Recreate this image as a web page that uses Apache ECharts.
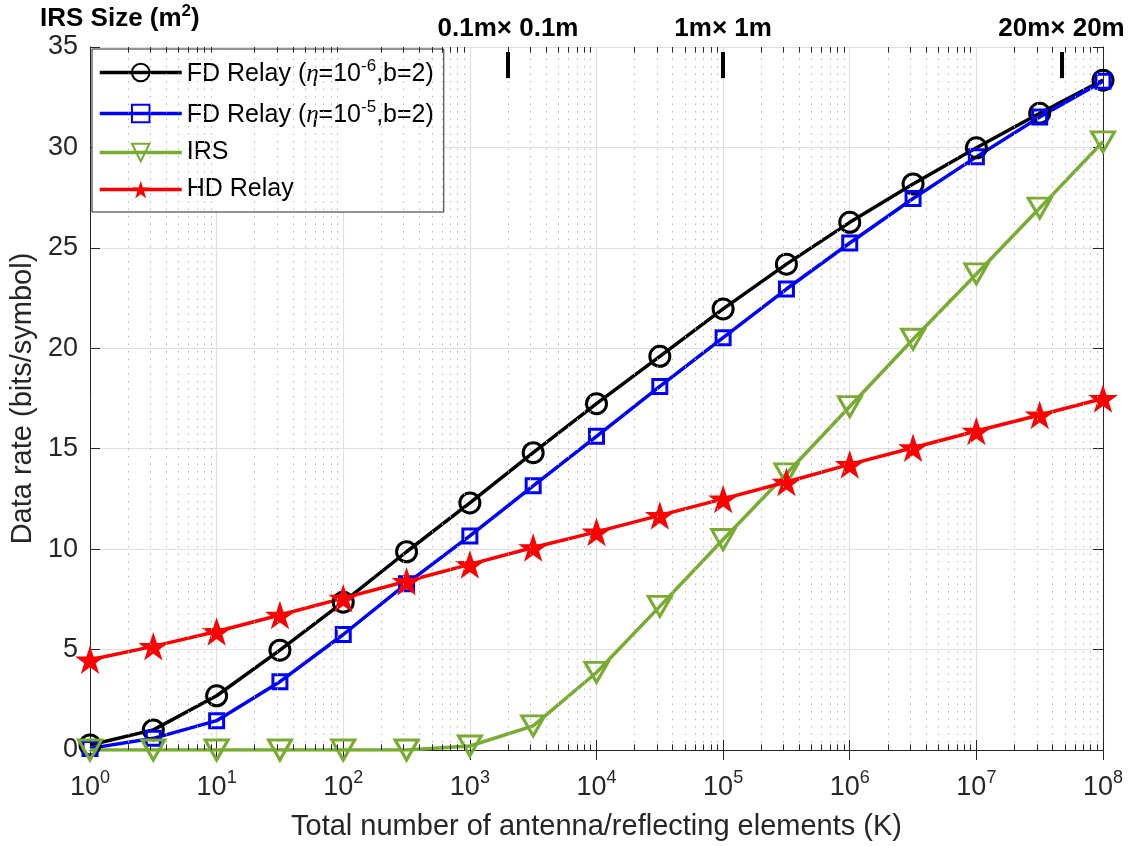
<!DOCTYPE html>
<html>
<head>
<meta charset="utf-8">
<script src="https://cdn.jsdelivr.net/npm/echarts@6/dist/echarts.min.js"></script>
<style>
  html, body { margin: 0; padding: 0; background: #fff; }
  #chart { width: 1133px; height: 846px; }
</style>
</head>
<body>
<div id="chart"></div>
<script>
// 横轴: K (天线/反射单元总数)
var K = [1, 3.162, 10, 31.62, 100, 316.2, 1000, 3162, 10000, 31623, 100000,
  316228, 1000000, 3162278, 10000000, 31622777, 100000000]
// 数据 (bits/symbol)
var fdEta6 = [0.25, 1.0, 2.7, 4.97, 7.36, 9.87, 12.3, 14.8, 17.24, 19.6, 21.96,
  24.19, 26.27, 28.18, 29.98, 31.7, 33.35]
var fdEta5 = [0.08, 0.58, 1.46, 3.4, 5.75, 8.28, 10.66, 13.15, 15.62, 18.1, 20.53,
  22.95, 25.24, 27.46, 29.53, 31.52, 33.3]
var irs = [0, 0, 0, 0, 0, 0, 0.2, 1.2, 3.86, 7.15, 10.48, 13.75, 17.1, 20.45,
  23.7, 26.98, 30.28]
var hdRelay = [4.49, 5.16, 5.9, 6.72, 7.56, 8.4, 9.24, 10.08, 10.86, 11.68, 12.5,
  13.34, 14.22, 15.05, 15.88, 16.68, 17.5]

// IRS 尺寸标注
var sizeK = [2000, 100000, 47000000]
var sizeLabels = ['0.1m\u00d7 0.1m', '1m\u00d7 1m', '20m\u00d7 20m']

var names = ['FD Relay (\u03b7=10-6,b=2)', 'FD Relay (\u03b7=10-5,b=2)', 'IRS', 'HD Relay']
var legendRich = {}
legendRich[names[0]] = '{t|FD Relay (}{e|\u03b7}{t|=10}{s|-6}{t|,b=2)}'
legendRich[names[1]] = '{t|FD Relay (}{e|\u03b7}{t|=10}{s|-5}{t|,b=2)}'
legendRich[names[2]] = '{t|IRS}'
legendRich[names[3]] = '{t|HD Relay}'

var minorMult = [2, 3, 4, 5, 6, 7, 8, 9]
var decades = [1, 10, 100, 1000, 10000, 100000, 1000000, 10000000]

var FONT = 'Liberation Sans'
var star = 'path://M50,0L61.2,34.5L97.6,34.5L68.2,55.9L79.4,90.5L50,69.1L20.6,90.5L31.8,55.9L2.4,34.5L38.8,34.5Z'

function pairs(ys) {
  return K.map(function (k, i) { return [k, ys[i]] })
}

// 次刻度与次网格
var minorGrid = []
var minorTicks = []
decades.forEach(function (d) {
  minorMult.forEach(function (m) {
    var v = m * d
    minorGrid.push({ xAxis: v })
    minorTicks.push([{ coord: [v, 0] }, { coord: [v, 0.28] }])
    minorTicks.push([{ coord: [v, 35] }, { coord: [v, 34.72] }])
  })
})

var sizeMarks = sizeK.map(function (k, i) {
  return [{ coord: [k, 33.45], name: sizeLabels[i] }, { coord: [k, 34.75] }]
})

var supLabel = function (value) {
  var e = Math.round(Math.log10(value))
  return '{b|10}{s|' + e + '}'
}

var chart = echarts.init(document.getElementById('chart'))

var option = {
  animation: false,
  backgroundColor: '#fff',
  textStyle: { fontFamily: FONT },
  title: {
    text: '{b|IRS Size (m}{s|2}{b|)}',
    left: 35,
    top: -2,
    textStyle: {
      rich: {
        b: { fontFamily: FONT, fontWeight: 'bold', fontSize: 26, color: '#000', verticalAlign: 'bottom' },
        s: { fontFamily: FONT, fontWeight: 'bold', fontSize: 17, color: '#000', verticalAlign: 'bottom', padding: [0, 0, 12, 0] }
      }
    }
  },
  grid: { left: 90, right: 30, top: 47, bottom: 94, containLabel: false },
  legend: {
    data: names,
    orient: 'vertical',
    left: 92,
    top: 49,
    backgroundColor: '#fff',
    borderColor: '#262626',
    borderWidth: 1,
    borderRadius: 0,
    padding: [9, 10, 10, 6],
    itemGap: 12,
    itemWidth: 82,
    itemHeight: 22,
    lineStyle: { width: 3.5 },
    formatter: function (name) { return legendRich[name] },
    textStyle: {
      rich: {
        t: { fontFamily: FONT, fontSize: 25, color: '#000', verticalAlign: 'bottom' },
        e: { fontFamily: 'Liberation Serif', fontStyle: 'italic', fontSize: 25, color: '#000', verticalAlign: 'bottom' },
        s: { fontFamily: FONT, fontSize: 17, color: '#000', verticalAlign: 'bottom', padding: [0, 0, 12, 0] }
      }
    }
  },
  xAxis: [
    {
      type: 'log',
      logBase: 10,
      min: 1,
      max: 100000000,
      interval: 1,
      name: 'Total number of antenna/reflecting elements (K)',
      nameLocation: 'middle',
      nameGap: 62,
      nameTextStyle: { fontFamily: FONT, fontSize: 29, color: '#262626' },
      axisLine: { show: true, lineStyle: { color: '#262626', width: 1 } },
      axisTick: { show: true, inside: true, length: 10, lineStyle: { color: '#262626' } },
      axisLabel: {
        margin: 19,
        formatter: supLabel,
        rich: {
          b: { fontFamily: FONT, fontSize: 27, color: '#262626', verticalAlign: 'bottom' },
          s: { fontFamily: FONT, fontSize: 18, color: '#262626', verticalAlign: 'bottom', padding: [0, 0, 14, 0] }
        }
      },
      splitLine: { show: true, lineStyle: { color: '#e0e0e0', width: 1.2 } }
    },
    {
      type: 'log',
      logBase: 10,
      position: 'top',
      min: 1,
      max: 100000000,
      interval: 1,
      axisLine: { show: true, lineStyle: { color: '#262626', width: 1 } },
      axisTick: { show: true, inside: true, length: 10, lineStyle: { color: '#262626' } },
      axisLabel: { show: false },
      splitLine: { show: false }
    }
  ],
  yAxis: [
    {
      type: 'value',
      min: 0,
      max: 35,
      interval: 5,
      name: 'Data rate (bits/symbol)',
      nameLocation: 'middle',
      nameGap: 50,
      nameTextStyle: { fontFamily: FONT, fontSize: 29, color: '#262626' },
      axisLine: { show: true, lineStyle: { color: '#262626', width: 1 } },
      axisTick: { show: true, inside: true, length: 10, lineStyle: { color: '#262626' } },
      axisLabel: { fontFamily: FONT, fontSize: 27, color: '#262626', margin: 12 },
      splitLine: { show: true, lineStyle: { color: '#e0e0e0', width: 1.2 } }
    },
    {
      type: 'value',
      position: 'right',
      min: 0,
      max: 35,
      interval: 5,
      axisLine: { show: true, lineStyle: { color: '#262626', width: 1 } },
      axisTick: { show: true, inside: true, length: 10, lineStyle: { color: '#262626' } },
      axisLabel: { show: false },
      splitLine: { show: false }
    }
  ],
  series: [
    {
      // 次网格
      name: 'helper',
      type: 'line',
      data: [],
      silent: true,
      z: 1,
      markLine: {
        silent: true,
        symbol: 'none',
        animation: false,
        label: { show: false },
        lineStyle: { color: '#b8b8b8', type: [1.5, 6], width: 1 },
        data: minorGrid
      }
    },
    {
      // 次刻度
      name: 'ticks',
      type: 'line',
      data: [],
      silent: true,
      z: 1,
      markLine: {
        silent: true,
        symbol: 'none',
        animation: false,
        label: { show: false },
        lineStyle: { color: '#262626', type: 'solid', width: 1 },
        data: minorTicks
      }
    },
    {
      // 尺寸标注
      name: 'sizes',
      type: 'line',
      data: [],
      silent: true,
      z: 3,
      markLine: {
        silent: true,
        symbol: 'none',
        animation: false,
        lineStyle: { color: '#000', type: 'solid', width: 4 },
        label: {
          show: true,
          position: 'end',
          formatter: '{b}',
          distance: 10,
          fontFamily: FONT,
          fontWeight: 'bold',
          fontSize: 26,
          color: '#000'
        },
        data: sizeMarks
      }
    },
    {
      name: names[0],
      type: 'line',
      data: pairs(fdEta6),
      symbol: 'circle',
      symbolSize: 20,
      lineStyle: { color: '#000000', width: 3.5 },
      itemStyle: { color: 'rgba(0,0,0,0)', borderColor: '#000000', borderWidth: 3 },
      z: 4
    },
    {
      name: names[1],
      type: 'line',
      data: pairs(fdEta5),
      symbol: 'rect',
      symbolSize: 14,
      lineStyle: { color: '#0000ff', width: 3.5 },
      itemStyle: { color: 'rgba(0,0,0,0)', borderColor: '#0000ff', borderWidth: 3 },
      z: 4
    },
    {
      name: names[2],
      type: 'line',
      data: pairs(irs),
      symbol: 'triangle',
      symbolRotate: 180,
      symbolSize: [23, 20],
      lineStyle: { color: '#77ac30', width: 3.5 },
      itemStyle: { color: 'rgba(0,0,0,0)', borderColor: '#77ac30', borderWidth: 3 },
      z: 4
    },
    {
      name: names[3],
      type: 'line',
      data: pairs(hdRelay),
      symbol: star,
      symbolKeepAspect: true,
      symbolSize: 30,
      lineStyle: { color: '#ff0000', width: 3.5 },
      itemStyle: { color: '#ff0000', borderWidth: 0 },
      z: 4
    }
  ]
}

chart.setOption(option)
</script>
</body>
</html>
